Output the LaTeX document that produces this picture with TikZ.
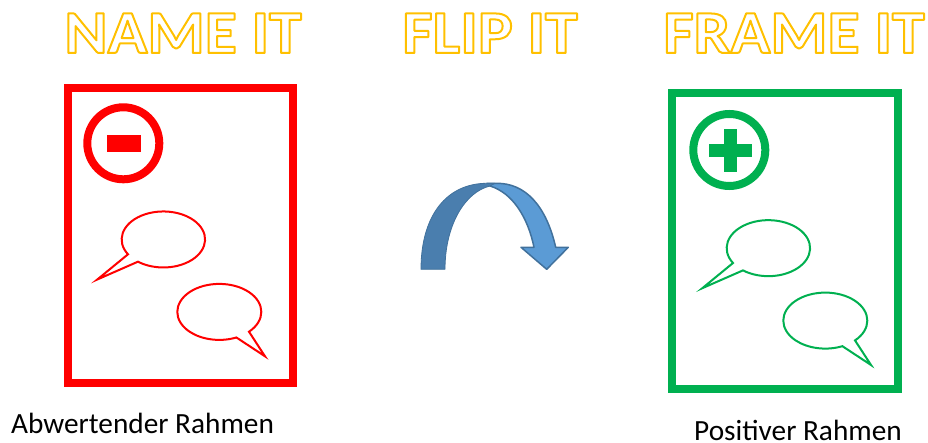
\documentclass[tikz,border=0pt]{standalone}
\usepackage{fontspec}
\usepackage{xcolor}
\setmainfont{Carlito}
\newfontfamily\titlefont[FakeStretch=1.076]{Carlito}

\definecolor{framered}{HTML}{FF0000}
\definecolor{framegreen}{HTML}{00B050}
\definecolor{titlegold}{HTML}{FFC000}
\definecolor{arrowdark}{HTML}{4A7EAE}
\definecolor{arrowlight}{HTML}{5B9BD5}
\definecolor{arrowline}{HTML}{41719C}

% hollow letters: stroke only
\newcommand{\hollow}[1]{\special{pdf:code q 1 Tr 2 w 1 j 1 J 1 0.753 0 RG}#1\special{pdf:code Q}}

\tikzset{
    titletext/.style={anchor=base, inner sep=0pt, font=\fontsize{61}{61}\titlefont\bfseries},
    captext/.style={anchor=base west, inner sep=0pt, font=\fontsize{29.3}{30}\selectfont},
    framebox/.style={line width=8pt},
    talkline/.style={line width=2pt, line join=miter, fill=white},
}

% speech bubbles: tail to the lower left, tail to the lower right
\newcommand{\talkleft}[3]{\draw[talkline, draw=#1, shift={(#2,#3)}]
    (-34.3,14.3) arc[start angle=148, delta angle=339.5, x radius=41.7, y radius=28] -- (-65,39.5) -- cycle;}
\newcommand{\talkright}[3]{\draw[talkline, draw=#1, shift={(#2,#3)}]
    (29,19.4) arc[start angle=45, delta angle=-339, x radius=42, y radius=28] -- (45,44) -- cycle;}

\begin{document}
\begin{tikzpicture}[x=1pt, y=-1pt]
    \useasboundingbox (0,0) rectangle (928,443);
    % Titles
    \node[titletext] (nameit) at (183,53) {\hollow{NAME IT}};
    \node[titletext] (flipit) at (490,53) {\hollow{FLIP IT}};
    \node[titletext] (frameit) at (794,53) {\hollow{FRAME IT}};
    % Red frame
    \draw[framebox, framered] (68,88) rectangle (293,383);
    \draw[framered, line width=8pt] (123.3,143.3) circle (36);
    \fill[framered] (107,135) rectangle (141,151.7);
    \talkleft{framered}{162.3}{240}
    \talkright{framered}{220}{312.3}
    % Arrow
    \filldraw[draw=arrowline, fill=arrowlight, line width=1.5pt, line join=round]
        (490,186) .. controls (513,193) and (528,218) .. (534,247.3) -- (521,247.3)
        -- (546.7,269.3) -- (568.3,247.3) -- (555.7,247.3)
        .. controls (546,205) and (525,183.3) .. (497,183.3) -- (487,183.3) -- cycle;
    \filldraw[draw=arrowline, fill=arrowdark, line width=0.8pt, line join=round]
        (421,269.3) .. controls (421,215) and (447,183.3) .. (487,183.3)
        -- (495,183.3) -- (490,186) .. controls (465,192) and (445,225) .. (445,269.3) -- cycle;
    % Green frame
    \draw[framebox, framegreen] (672.3,93.3) rectangle (898.3,389.3);
    \draw[framegreen, line width=8pt] (729.3,150) circle (36);
    \fill[framegreen] (709,144) rectangle (752,157);
    \fill[framegreen] (724,129) rectangle (737,172);
    \talkleft{framegreen}{767.3}{248.7}
    \talkright{framegreen}{826}{321}
    % Captions
    \node[captext] (negcap) at (11,433.5) {Abwertender Rahmen};
    \node[captext] (poscap) at (694,440.5) {Positiver Rahmen};
\end{tikzpicture}
\end{document}
